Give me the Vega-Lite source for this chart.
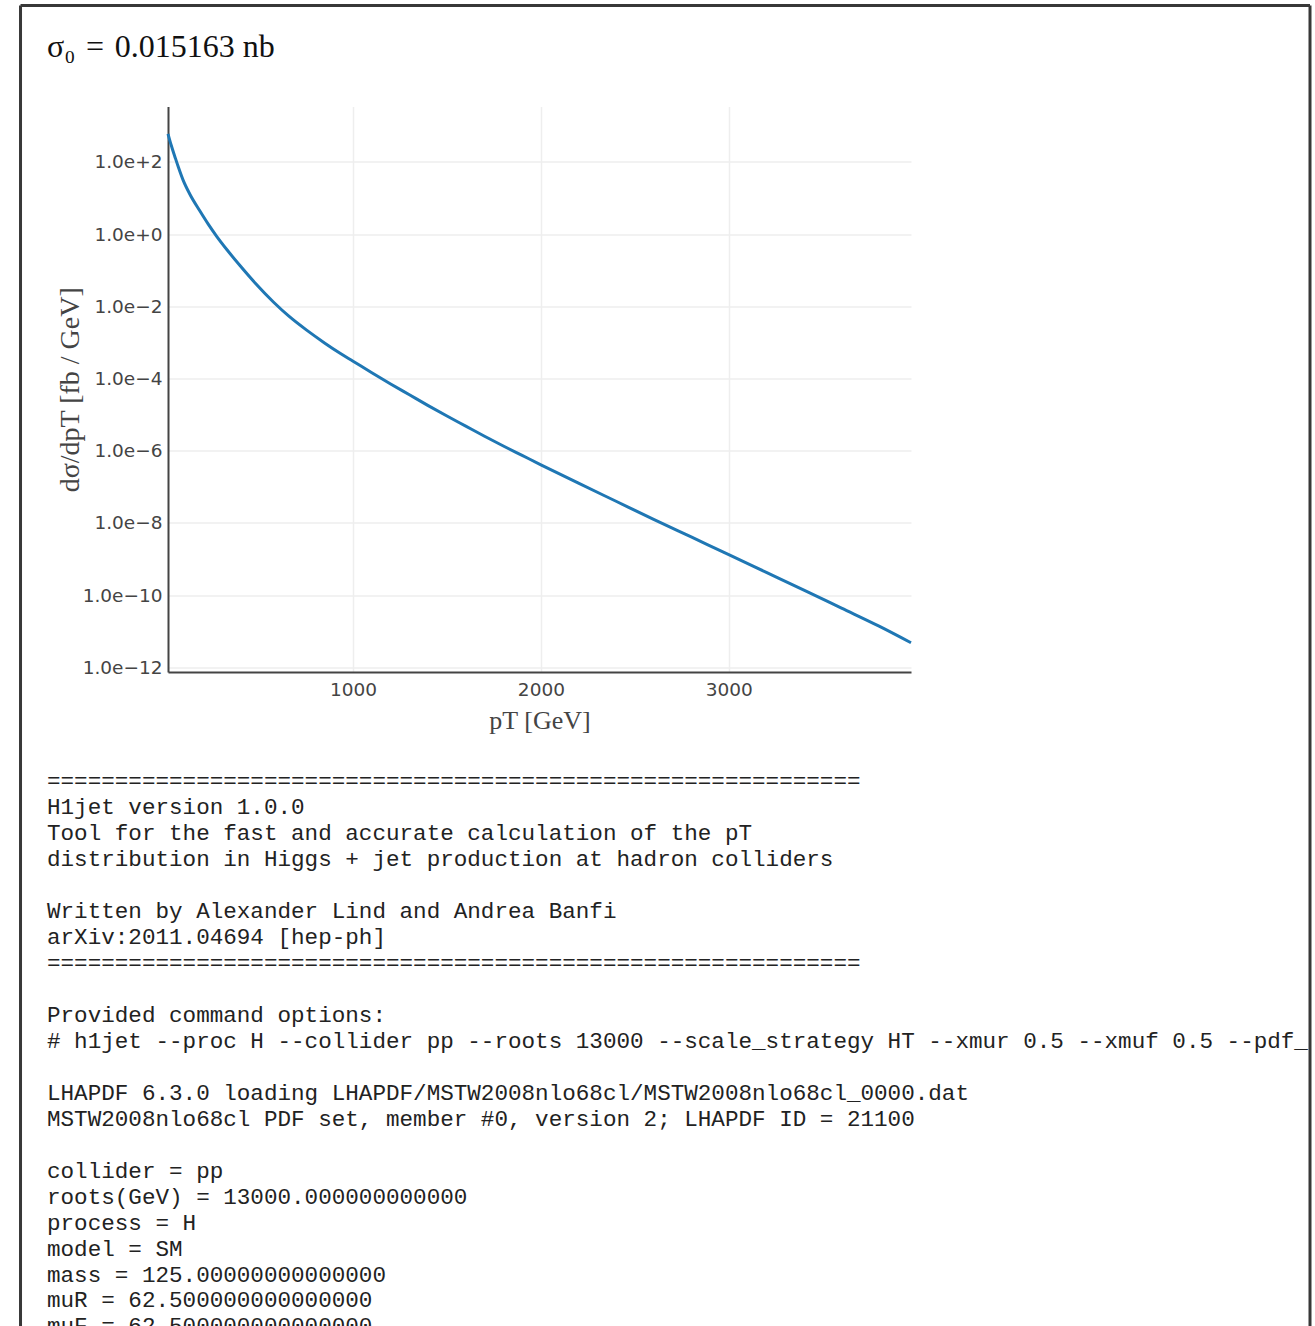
{
  "$schema": "https://vega.github.io/schema/vega-lite/v6.json",
  "background": "white",
  "padding": {"left": 19, "top": 3.5, "right": 0, "bottom": 0},
  "bounds": "flush",
  "spacing": 83,
  "datasets": {
    "spectrum": [
      {"pT": 15, "dsigma": 602.6},
      {"pT": 20, "dsigma": 478.6},
      {"pT": 30, "dsigma": 316.2},
      {"pT": 40, "dsigma": 213.8},
      {"pT": 52, "dsigma": 138.0},
      {"pT": 70, "dsigma": 72.44},
      {"pT": 96, "dsigma": 30.90},
      {"pT": 130, "dsigma": 13.18},
      {"pT": 185, "dsigma": 4.365},
      {"pT": 230, "dsigma": 1.862},
      {"pT": 274, "dsigma": 0.871},
      {"pT": 330, "dsigma": 0.3631},
      {"pT": 398, "dsigma": 0.1349},
      {"pT": 480, "dsigma": 0.04365},
      {"pT": 576, "dsigma": 0.01318},
      {"pT": 660, "dsigma": 0.005248},
      {"pT": 753, "dsigma": 0.002188},
      {"pT": 850, "dsigma": 0.0009550},
      {"pT": 931, "dsigma": 0.0005012},
      {"pT": 1000, "dsigma": 0.0003020},
      {"pT": 1100, "dsigma": 0.0001445},
      {"pT": 1200, "dsigma": 7.079e-5},
      {"pT": 1300, "dsigma": 3.548e-5},
      {"pT": 1400, "dsigma": 1.778e-5},
      {"pT": 1500, "dsigma": 9.120e-6},
      {"pT": 1600, "dsigma": 4.786e-6},
      {"pT": 1700, "dsigma": 2.512e-6},
      {"pT": 1800, "dsigma": 1.349e-6},
      {"pT": 1900, "dsigma": 7.413e-7},
      {"pT": 2000, "dsigma": 4.074e-7},
      {"pT": 2200, "dsigma": 1.259e-7},
      {"pT": 2400, "dsigma": 3.981e-8},
      {"pT": 2600, "dsigma": 1.259e-8},
      {"pT": 2800, "dsigma": 4.074e-9},
      {"pT": 3000, "dsigma": 1.318e-9},
      {"pT": 3200, "dsigma": 4.266e-10},
      {"pT": 3400, "dsigma": 1.380e-10},
      {"pT": 3600, "dsigma": 4.365e-11},
      {"pT": 3800, "dsigma": 1.380e-11},
      {"pT": 3970, "dsigma": 4.786e-12}
    ],
    "console": [
      {"line": 0, "col": 0, "text": "============================================================"},
      {"line": 1, "col": 0, "text": "H1jet version 1.0.0"},
      {"line": 2, "col": 0, "text": "Tool for the fast and accurate calculation of the pT"},
      {"line": 3, "col": 0, "text": "distribution in Higgs + jet production at hadron colliders"},
      {"line": 5, "col": 0, "text": "Written by Alexander Lind and Andrea Banfi"},
      {"line": 6, "col": 0, "text": "arXiv:2011.04694 [hep-ph]"},
      {"line": 7, "col": 0, "text": "============================================================"},
      {"line": 9, "col": 0, "text": "Provided command options:"},
      {"line": 10, "col": 0, "text": "# h1jet --proc H --collider pp --roots 13000 --scale_strategy HT --xmur 0.5 --xmuf 0.5 --pdf_"},
      {"line": 12, "col": 0, "text": "LHAPDF 6.3.0 loading LHAPDF/MSTW2008nlo68cl/MSTW2008nlo68cl_0000.dat"},
      {"line": 13, "col": 0, "text": "MSTW2008nlo68cl PDF set, member #0, version 2; LHAPDF ID = 21100"},
      {"line": 15, "col": 0, "text": "collider = pp"},
      {"line": 16, "col": 0, "text": "roots(GeV) = 13000.000000000000"},
      {"line": 17, "col": 0, "text": "process = H"},
      {"line": 18, "col": 0, "text": "model = SM"},
      {"line": 19, "col": 0, "text": "mass = 125.00000000000000"},
      {"line": 20, "col": 0, "text": "muR = 62.500000000000000"},
      {"line": 21, "col": 0, "text": "muF = 62.500000000000000"}
    ],
    "frame": [
      {"edge": "left", "col": -1.95, "col2": -1.95, "line": -29.9, "line2": 60},
      {"edge": "right", "col": 93, "col2": 93, "line": -29.9, "line2": 60},
      {"edge": "top", "col": -1.95, "col2": 93, "line": -29.9, "line2": -29.9}
    ]
  },
  "vconcat": [
    {
      "width": 743,
      "height": 565.5,
      "title": {
        "text": "σ₀\u2004=\u20040.015163 nb",
        "anchor": "start",
        "frame": "group",
        "dx": -121,
        "offset": 43,
        "font": "Liberation Serif",
        "fontSize": 32,
        "fontWeight": "normal",
        "color": "#111"
      },
      "data": {"name": "spectrum"},
      "mark": {"type": "line", "color": "#1f77b4", "strokeWidth": 3, "interpolate": "monotone"},
      "encoding": {
        "x": {
          "field": "pT",
          "type": "quantitative",
          "scale": {"domain": [15, 3970], "nice": false, "zero": false},
          "axis": {
            "values": [1000, 2000, 3000],
            "format": "d",
            "title": "pT [GeV]",
            "titleFont": "Liberation Serif",
            "titleFontSize": 26,
            "titleFontWeight": "normal",
            "titleColor": "#444",
            "titlePadding": 9,
            "labelPadding": 8
          }
        },
        "y": {
          "field": "dsigma",
          "type": "quantitative",
          "scale": {"type": "log", "domain": [7.4e-13, 3440], "nice": false},
          "axis": {
            "values": [1e-12, 1e-10, 1e-8, 1e-6, 1e-4, 0.01, 1, 100],
            "labelExpr": "replace(format(datum.value, '.1e'), '-', '−')",
            "title": "dσ/dpT [fb / GeV]",
            "titleFont": "Liberation Serif",
            "titleFontSize": 28,
            "titleFontWeight": "normal",
            "titleColor": "#444",
            "titlePadding": -2,
            "labelPadding": 6
          }
        }
      }
    },
    {
      "width": 1142,
      "height": 622.8,
      "layer": [
        {
          "data": {"name": "console"},
          "mark": {
            "type": "text",
            "align": "left",
            "baseline": "middle",
            "font": "Liberation Mono",
            "fontSize": 22.6,
            "color": "#222"
          },
          "encoding": {
            "x": {"field": "col", "type": "quantitative", "scale": {"domain": [8.91, 93], "nice": false, "zero": false}, "axis": null},
            "y": {"field": "line", "type": "quantitative", "scale": {"domain": [-1, 23], "reverse": true, "nice": false, "zero": false}, "axis": null},
            "text": {"field": "text", "type": "nominal"}
          }
        },
        {
          "data": {"name": "frame"},
          "mark": {"type": "rule", "color": "#383838", "strokeWidth": 3},
          "encoding": {
            "x": {"field": "col", "type": "quantitative"},
            "x2": {"field": "col2"},
            "y": {"field": "line", "type": "quantitative"},
            "y2": {"field": "line2"}
          }
        }
      ]
    }
  ],
  "config": {
    "view": {"stroke": null},
    "axis": {
      "labelFont": "DejaVu Sans",
      "labelFontSize": 18.5,
      "labelColor": "#444",
      "ticks": false,
      "grid": true,
      "gridColor": "#eeeeee",
      "gridWidth": 1.5,
      "domainColor": "#444",
      "domainWidth": 2
    }
  }
}
